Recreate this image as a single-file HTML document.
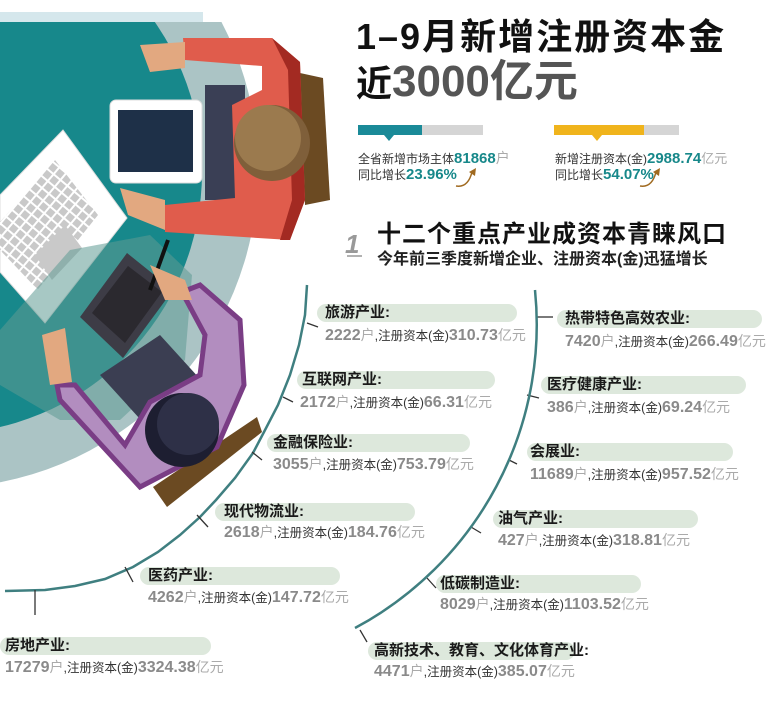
<!DOCTYPE html>
<html><head><meta charset="utf-8">
<style>
body{margin:0;width:768px;height:701px;background:#fff;position:relative;overflow:hidden;font-family:"Liberation Sans","Noto Sans CJK SC",sans-serif;}
.a{position:absolute;white-space:nowrap;}
.pill{position:absolute;height:18px;border-radius:9px;background:#dde8dc;}
.t{position:absolute;font-size:15px;font-weight:bold;color:#1a1a1a;white-space:nowrap;line-height:18px;}
.d{position:absolute;font-size:12.5px;color:#333;white-space:nowrap;line-height:18px;}
.n{font-family:"Liberation Sans Narrow","Liberation Sans",sans-serif;font-weight:bold;color:#8a8a8a;font-size:16px;}
.u{color:#aaa;font-size:14px;}
.tn{font-family:"Liberation Sans Narrow","Liberation Sans",sans-serif;font-weight:bold;color:#17888a;font-size:15px;}
</style></head><body>
<svg width="768" height="701" style="position:absolute;left:0;top:0">
<defs>
<clipPath id="c1"><rect x="0" y="22" width="400" height="600"/></clipPath>
<pattern id="kb" width="9" height="9" patternUnits="userSpaceOnUse" patternTransform="rotate(-50)"><rect width="9" height="9" fill="#fff"/><rect x="1" y="1" width="7" height="7" fill="#c9c9c9"/></pattern>
</defs>
<rect x="0" y="12" width="203" height="10" fill="#d5e7ec"/>
<g clip-path="url(#c1)">
<circle cx="-60" cy="170" r="318" fill="#abc4c5"/>
<circle cx="-60" cy="172" r="262" fill="#17888b"/>
</g>
<!-- laptop -->
<polygon points="0,195 63,130 127,218 45,323 0,272" fill="#fff" stroke="#ddd"/>
<polygon points="0,222 55,160 98,215 38,290 0,250" fill="url(#kb)"/>
<polygon points="35,255 65,225 82,248 52,280" fill="#c9c9c9"/>
<!-- red person -->
<polygon points="300,73 323,78 330,200 305,205" fill="#6b4a22"/>
<rect x="205" y="85" width="40" height="115" fill="#3a3f55"/>
<polygon points="183,38 272,38 300,62 305,200 290,240 165,232 165,205 235,198 232,105 262,90 262,66 185,60" fill="#e05c4c"/>
<polygon points="272,38 300,62 305,200 290,240 280,240 292,200 288,70" fill="#a32a22"/>
<polygon points="140,45 185,42 185,68 150,72" fill="#e2a880"/>
<polygon points="120,188 165,200 165,230 128,215" fill="#e2a880"/>
<circle cx="272" cy="143" r="38" fill="#7f5f3a"/>
<circle cx="268" cy="138" r="33" fill="#9b7a4e"/>
<rect x="110" y="100" width="92" height="83" rx="6" fill="#fff" stroke="#ddd"/>
<rect x="118" y="110" width="75" height="62" fill="#1e3048"/>
<!-- purple person -->
<polygon points="153,487 257,417 262,432 167,507" fill="#6b4a22"/>
<polygon points="70,250 150,235 192,275 185,360 120,420 60,420 0,385 0,330" fill="#5e9a93" opacity="0.55"/>
<polygon points="80,317 127,253 173,290 123,358" fill="#3d3c46"/>
<polygon points="92,313 128,266 162,292 125,343" fill="#2b292f"/>
<line x1="150" y1="290" x2="168" y2="240" stroke="#111" stroke-width="4"/>
<polygon points="100,375 160,335 210,390 150,430" fill="#3b3e52"/>
<polygon points="182,292 200,285 240,320 244,385 217,447 140,487 60,400 57,385 75,385 125,445 150,402 200,375 205,335" fill="#b28dbf" stroke="#7a3d85" stroke-width="5"/>
<polygon points="150,265 185,280 192,300 165,300" fill="#e2a880"/>
<polygon points="42,335 65,328 72,382 50,385" fill="#e2a880"/>
<circle cx="182" cy="430" r="37" fill="#1d1e31"/>
<circle cx="188" cy="424" r="31" fill="#2e3047"/>
<!-- left arc -->
<polyline points="307,285 305,315 299,345 290,375 278,405 264,432 253,453 235,478 216,500 200,517 180,535 158,552 133,567 105,579 75,586 45,590 5,591" fill="none" stroke="#3f7f80" stroke-width="2.5"/>
<g stroke="#333" stroke-width="1.3">
<line x1="307" y1="323" x2="318" y2="327"/><line x1="283" y1="397" x2="293" y2="402"/>
<line x1="252" y1="452" x2="262" y2="460"/><line x1="197" y1="515" x2="208" y2="527"/>
<line x1="125" y1="567" x2="133" y2="582"/><line x1="35" y1="590" x2="35" y2="615"/>
<line x1="537" y1="317" x2="553" y2="317"/><line x1="527" y1="395" x2="539" y2="398"/>
<line x1="509" y1="460" x2="517" y2="464"/><line x1="471" y1="527" x2="481" y2="533"/>
<line x1="427" y1="578" x2="436" y2="588"/><line x1="360" y1="630" x2="367" y2="642"/>
</g>
<path d="M535,290 A344,344 0 0,1 355,628" fill="none" stroke="#3f7f80" stroke-width="2.5"/>
<!-- bars -->
<rect x="358" y="125" width="64" height="10" fill="#1a8a98"/><rect x="422" y="125" width="61" height="10" fill="#d5d5d5"/>
<polygon points="384,135 394,135 389,141" fill="#1a8a98"/>
<rect x="554" y="125" width="90" height="10" fill="#f0b41c"/><rect x="644" y="125" width="35" height="10" fill="#d5d5d5"/>
<polygon points="592,135 602,135 597,141" fill="#f0b41c"/>
<path d="M456,186 Q468,188 472,172" fill="none" stroke="#a06a20" stroke-width="1.5"/><polygon points="469,172 476,168 475,176" fill="#a06a20"/>
<path d="M640,186 Q652,188 656,172" fill="none" stroke="#a06a20" stroke-width="1.5"/><polygon points="653,172 660,168 659,176" fill="#a06a20"/>
<text x="345" y="253" font-family="Liberation Sans" font-style="italic" font-weight="bold" font-size="26" fill="#999">1</text>
<line x1="347" y1="256" x2="362" y2="256" stroke="#999" stroke-width="1.5"/>
</svg>

<div class="a" style="left:356px;top:15px;font-size:36px;font-weight:bold;letter-spacing:2px;color:#111;line-height:44px">1–9月新增注册资本金</div>
<div class="a" style="left:356px;top:58px;font-weight:bold;color:#111;line-height:48px"><span style="font-size:36px">近</span><span style="font-size:44px;color:#555">3000亿元</span></div>

<div class="a" style="left:358px;top:148px;font-size:12px;color:#333">全省新增市场主体<span class="tn">81868</span><span class="u">户</span></div>
<div class="a" style="left:358px;top:166px;font-size:12px;color:#333">同比增长<span class="tn">23.96%</span></div>
<div class="a" style="left:555px;top:148px;font-size:12px;color:#333">新增注册资本(金)<span class="tn">2988.74</span><span class="u" style="font-size:13px">亿元</span></div>
<div class="a" style="left:555px;top:166px;font-size:12px;color:#333">同比增长<span class="tn">54.07%</span></div>

<div class="a" style="left:377px;top:214px;font-size:24px;font-weight:bold;letter-spacing:1px;color:#111">十二个重点产业成资本青睐风口</div>
<div class="a" style="left:377px;top:245px;font-size:16px;font-weight:bold;color:#222">今年前三季度新增企业、注册资本(金)迅猛增长</div>

<div class="pill" style="left:317px;top:304px;width:200px"></div><div class="t" style="left:325px;top:304px">旅游产业:</div>
<div class="d" style="left:325px;top:326px"><span class="n">2222</span><span class="u">户</span>,注册资本(金)<span class="n">310.73</span><span class="u">亿元</span></div>

<div class="pill" style="left:297px;top:371px;width:198px"></div><div class="t" style="left:302px;top:371px">互联网产业:</div>
<div class="d" style="left:300px;top:393px"><span class="n">2172</span><span class="u">户</span>,注册资本(金)<span class="n">66.31</span><span class="u">亿元</span></div>

<div class="pill" style="left:267px;top:434px;width:203px"></div><div class="t" style="left:273px;top:434px">金融保险业:</div>
<div class="d" style="left:273px;top:455px"><span class="n">3055</span><span class="u">户</span>,注册资本(金)<span class="n">753.79</span><span class="u">亿元</span></div>

<div class="pill" style="left:215px;top:503px;width:200px"></div><div class="t" style="left:224px;top:503px">现代物流业:</div>
<div class="d" style="left:224px;top:523px"><span class="n">2618</span><span class="u">户</span>,注册资本(金)<span class="n">184.76</span><span class="u">亿元</span></div>

<div class="pill" style="left:140px;top:567px;width:200px"></div><div class="t" style="left:148px;top:567px">医药产业:</div>
<div class="d" style="left:148px;top:588px"><span class="n">4262</span><span class="u">户</span>,注册资本(金)<span class="n">147.72</span><span class="u">亿元</span></div>

<div class="pill" style="left:0px;top:637px;width:211px"></div><div class="t" style="left:5px;top:637px">房地产业:</div>
<div class="d" style="left:5px;top:658px"><span class="n">17279</span><span class="u">户</span>,注册资本(金)<span class="n">3324.38</span><span class="u">亿元</span></div>

<div class="pill" style="left:557px;top:310px;width:205px"></div><div class="t" style="left:565px;top:310px">热带特色高效农业:</div>
<div class="d" style="left:565px;top:332px"><span class="n">7420</span><span class="u">户</span>,注册资本(金)<span class="n">266.49</span><span class="u">亿元</span></div>

<div class="pill" style="left:541px;top:376px;width:205px"></div><div class="t" style="left:547px;top:376px">医疗健康产业:</div>
<div class="d" style="left:547px;top:398px"><span class="n">386</span><span class="u">户</span>,注册资本(金)<span class="n">69.24</span><span class="u">亿元</span></div>

<div class="pill" style="left:527px;top:443px;width:206px"></div><div class="t" style="left:530px;top:443px">会展业:</div>
<div class="d" style="left:530px;top:465px"><span class="n">11689</span><span class="u">户</span>,注册资本(金)<span class="n">957.52</span><span class="u">亿元</span></div>

<div class="pill" style="left:493px;top:510px;width:205px"></div><div class="t" style="left:498px;top:510px">油气产业:</div>
<div class="d" style="left:498px;top:531px"><span class="n">427</span><span class="u">户</span>,注册资本(金)<span class="n">318.81</span><span class="u">亿元</span></div>

<div class="pill" style="left:436px;top:575px;width:205px"></div><div class="t" style="left:440px;top:575px">低碳制造业:</div>
<div class="d" style="left:440px;top:595px"><span class="n">8029</span><span class="u">户</span>,注册资本(金)<span class="n">1103.52</span><span class="u">亿元</span></div>

<div class="pill" style="left:368px;top:642px;width:207px"></div><div class="t" style="left:374px;top:642px">高新技术、教育、文化体育产业:</div>
<div class="d" style="left:374px;top:662px"><span class="n">4471</span><span class="u">户</span>,注册资本(金)<span class="n">385.07</span><span class="u">亿元</span></div>
</body></html>
